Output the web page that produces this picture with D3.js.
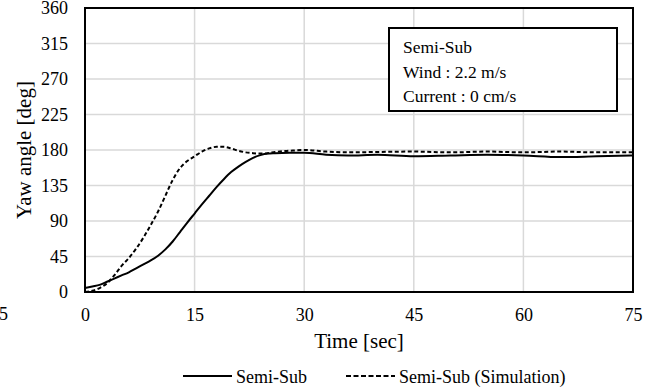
<!DOCTYPE html>
<html>
<head>
<meta charset="utf-8">
<script src="https://cdn.jsdelivr.net/npm/d3@7"></script>
<style>
  body { margin: 0; background: #fff; }
  svg, svg text { font-family: "Liberation Serif", "Times New Roman", Tinos, "DejaVu Serif", serif !important; }
</style>
</head>
<body>
<div id="chart"></div>
<script>
// time stamps [sec]
const timeSec = [0, 1, 2, 3, 4, 5, 6, 7, 8, 9, 10, 11, 12, 13, 14, 15, 16, 17, 18, 19, 20,
  21, 22, 23, 24, 25, 26, 28, 30, 33, 36, 40, 45, 50, 55, 60, 65, 70, 75];

// measured yaw angle [deg]
const semiSub = [5, 7, 9, 13, 17, 21, 25, 30, 35, 40, 46, 54, 64, 76, 88, 99.5, 111, 122, 133, 143, 152,
  159, 165, 170, 173.5, 175.5, 176, 176.5, 176.5, 174, 173, 174, 172, 173, 174, 173, 171, 172, 173];

// simulated yaw angle [deg]
const semiSubSim = [0, 1.5, 5, 11, 21, 33, 43, 55, 69, 85, 102, 122, 142, 157, 166, 172, 178, 182, 184, 184, 182,
  179, 177, 176, 175.5, 176, 177.5, 179, 180, 178, 177, 177.5, 178, 177, 178, 177, 178, 177, 177];

const xTicks = [0, 15, 30, 45, 60, 75];
const yTicks = [0, 45, 90, 135, 180, 225, 270, 315, 360];
const infoLines = ["Semi-Sub", "Wind : 2.2 m/s", "Current : 0 cm/s"];
const legendNames = ["Semi-Sub", "Semi-Sub (Simulation)"];

const width = 652, height = 392;
const margin = { left: 85, right: 19, top: 8, bottom: 100 };

const svg = d3.select('#chart').append('svg')
  .attr('width', width)
  .attr('height', height);

const x = d3.scaleLinear().domain([0, 75]).range([margin.left, width - margin.right]);
const y = d3.scaleLinear().domain([0, 360]).range([height - margin.bottom, margin.top]);

// grid
svg.append('g')
  .selectAll('line')
  .data(yTicks)
  .enter().append('line')
  .attr('x1', x(0)).attr('x2', x(75))
  .attr('y1', d => y(d)).attr('y2', d => y(d))
  .attr('stroke', '#d9d9d9').attr('stroke-width', 1.5);

svg.append('g')
  .selectAll('line')
  .data(xTicks)
  .enter().append('line')
  .attr('x1', d => x(d)).attr('x2', d => x(d))
  .attr('y1', y(0)).attr('y2', y(360))
  .attr('stroke', '#d9d9d9').attr('stroke-width', 1.5);

// axes (labels only, frame drawn separately)
const xAxis = svg.append('g')
  .attr('transform', `translate(0,${y(0)})`)
  .call(d3.axisBottom(x).tickValues(xTicks).tickSize(0).tickPadding(16));
const yAxis = svg.append('g')
  .attr('transform', `translate(${x(0)},0)`)
  .call(d3.axisLeft(y).tickValues(yTicks).tickSize(0).tickPadding(17));
[xAxis, yAxis].forEach(g => {
  g.attr('font-family', null).attr('font-size', 18);
  g.select('.domain').remove();
  g.selectAll('text').attr('fill', '#000');
});

// clipped label from neighbouring chart
svg.append('text')
  .attr('x', 8).attr('y', 320)
  .attr('text-anchor', 'end')
  .attr('font-size', 18)
  .text('75');

// lines
const line = d3.line()
  .x((d, i) => x(timeSec[i]))
  .y(d => y(d))
  .curve(d3.curveMonotoneX);

svg.append('path')
  .datum(semiSubSim)
  .attr('d', line)
  .attr('fill', 'none')
  .attr('stroke', '#000')
  .attr('stroke-width', 2)
  .attr('stroke-dasharray', '4,2.5');

svg.append('path')
  .datum(semiSub)
  .attr('d', line)
  .attr('fill', 'none')
  .attr('stroke', '#000')
  .attr('stroke-width', 2);

// plot frame
svg.append('rect')
  .attr('x', x(0)).attr('y', y(360))
  .attr('width', x(75) - x(0)).attr('height', y(0) - y(360))
  .attr('fill', 'none')
  .attr('stroke', '#000')
  .attr('stroke-width', 2);

// axis titles
svg.append('text')
  .attr('x', (x(0) + x(75)) / 2).attr('y', 348)
  .attr('text-anchor', 'middle')
  .attr('font-size', 21)
  .text('Time [sec]');

svg.append('text')
  .attr('transform', `translate(31,${(y(0) + y(360)) / 2}) rotate(-90)`)
  .attr('text-anchor', 'middle')
  .attr('font-size', 21)
  .text('Yaw angle [deg]');

// info box
svg.append('rect')
  .attr('x', 389).attr('y', 28)
  .attr('width', 228).attr('height', 83)
  .attr('fill', '#fff')
  .attr('stroke', '#000')
  .attr('stroke-width', 2);

svg.append('g')
  .selectAll('text')
  .data(infoLines)
  .enter().append('text')
  .attr('x', 403)
  .attr('y', (d, i) => 53 + i * 24.5)
  .attr('font-size', 17.5)
  .text(d => d);

// legend
const legend = svg.append('g');
const legendX = [183, 346];
legendNames.forEach((name, i) => {
  legend.append('line')
    .attr('x1', legendX[i]).attr('x2', legendX[i] + 49)
    .attr('y1', 376).attr('y2', 376)
    .attr('stroke', '#000')
    .attr('stroke-width', 2)
    .attr('stroke-dasharray', i === 1 ? '5,2.5' : null);
  legend.append('text')
    .attr('x', legendX[i] + 53).attr('y', 383)
    .attr('font-size', 18)
    .text(name);
});
</script>
</body>
</html>
